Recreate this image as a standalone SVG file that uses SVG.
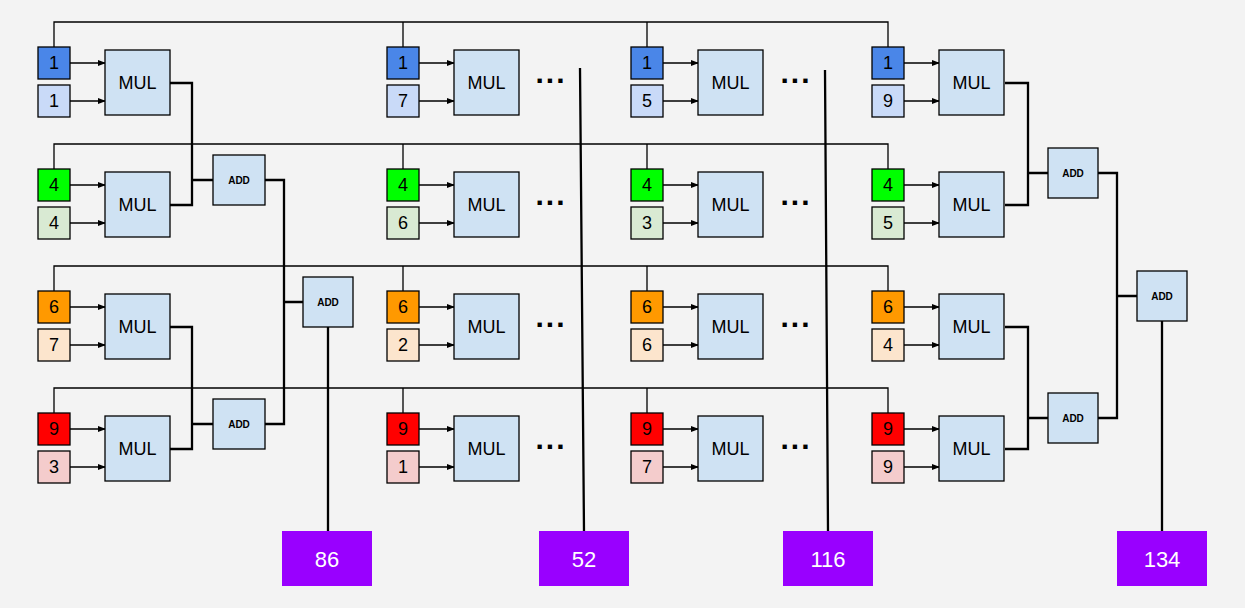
<svg xmlns="http://www.w3.org/2000/svg" width="1245" height="608" viewBox="0 0 1245 608">
<style>
text{font-family:"Liberation Sans",Arial,sans-serif;text-anchor:middle;dominant-baseline:central}
.b{stroke:#000;stroke-width:1.3}
.n{font-size:18px}
.m{fill:#cfe2f3;stroke:#000;stroke-width:1.3}
.mt{font-size:18px}
.at{font-size:10px;font-weight:bold}
.w{fill:none;stroke:#000;stroke-width:1.3}
.t{fill:none;stroke:#000;stroke-width:2.3}
.d{font-size:30px;font-weight:bold;letter-spacing:2px}
.p{fill:#9900ff}
.pt{font-size:22px;fill:#fff}
line.a{stroke:#000;stroke-width:1.3;marker-end:url(#ar)}
</style>
<defs>
<marker id="ar" markerWidth="8" markerHeight="6" refX="7" refY="3" orient="auto" markerUnits="userSpaceOnUse"><path d="M0,0L8,3L0,6z"/></marker>
</defs>
<rect width="1245" height="608" fill="#f3f3f3"/>
<g id="connectors">
<path class="w" d="M54,47V22H888V47M403,22V47M647,22V47"/>
<path class="w" d="M54,169V144H888V169M403,144V169M647,144V169"/>
<path class="w" d="M54,291V266H888V291M403,266V291M647,266V291"/>
<path class="w" d="M54,413V388H888V413M403,388V413M647,388V413"/>
<line class="a" x1="70" y1="63" x2="105" y2="63"/><line class="a" x1="70" y1="101" x2="105" y2="101"/><line class="a" x1="70" y1="185" x2="105" y2="185"/><line class="a" x1="70" y1="223" x2="105" y2="223"/><line class="a" x1="70" y1="307" x2="105" y2="307"/><line class="a" x1="70" y1="345" x2="105" y2="345"/><line class="a" x1="70" y1="429" x2="105" y2="429"/><line class="a" x1="70" y1="467" x2="105" y2="467"/>
<line class="a" x1="419" y1="63" x2="454" y2="63"/><line class="a" x1="419" y1="101" x2="454" y2="101"/><line class="a" x1="419" y1="185" x2="454" y2="185"/><line class="a" x1="419" y1="223" x2="454" y2="223"/><line class="a" x1="419" y1="307" x2="454" y2="307"/><line class="a" x1="419" y1="345" x2="454" y2="345"/><line class="a" x1="419" y1="429" x2="454" y2="429"/><line class="a" x1="419" y1="467" x2="454" y2="467"/>
<line class="a" x1="663" y1="63" x2="698" y2="63"/><line class="a" x1="663" y1="101" x2="698" y2="101"/><line class="a" x1="663" y1="185" x2="698" y2="185"/><line class="a" x1="663" y1="223" x2="698" y2="223"/><line class="a" x1="663" y1="307" x2="698" y2="307"/><line class="a" x1="663" y1="345" x2="698" y2="345"/><line class="a" x1="663" y1="429" x2="698" y2="429"/><line class="a" x1="663" y1="467" x2="698" y2="467"/>
<line class="a" x1="904" y1="63" x2="939" y2="63"/><line class="a" x1="904" y1="101" x2="939" y2="101"/><line class="a" x1="904" y1="185" x2="939" y2="185"/><line class="a" x1="904" y1="223" x2="939" y2="223"/><line class="a" x1="904" y1="307" x2="939" y2="307"/><line class="a" x1="904" y1="345" x2="939" y2="345"/><line class="a" x1="904" y1="429" x2="939" y2="429"/><line class="a" x1="904" y1="467" x2="939" y2="467"/>
<path class="t" d="M170,83H192V205H170M192,180H213M170,327H192V449H170M192,424H213M265,180H284V424H265M284,302H303M328,327V531"/>
<path class="t" d="M1005,83H1028V205H1005M1028,173H1048M1005,327H1028V449H1005M1028,418H1048M1098,173H1117V418H1098M1117,296H1137M1162,321V531"/>
<path class="t" d="M580,68L584,531M825,70L828,531"/>
</g>
<g id="inputs">
<g id="c0"><rect class="b" x="38" y="47" width="32" height="32" fill="#4a86e8"/><text class="n" x="54" y="63">1</text><rect class="b" x="38" y="85" width="32" height="32" fill="#c9daf8"/><text class="n" x="54" y="101">1</text>
<rect class="b" x="38" y="169" width="32" height="32" fill="#00ff00"/><text class="n" x="54" y="185">4</text><rect class="b" x="38" y="207" width="32" height="32" fill="#d9ead3"/><text class="n" x="54" y="223">4</text>
<rect class="b" x="38" y="291" width="32" height="32" fill="#ff9900"/><text class="n" x="54" y="307">6</text><rect class="b" x="38" y="329" width="32" height="32" fill="#fce5cd"/><text class="n" x="54" y="345">7</text>
<rect class="b" x="38" y="413" width="32" height="32" fill="#ff0000"/><text class="n" x="54" y="429">9</text><rect class="b" x="38" y="451" width="32" height="32" fill="#f4cccc"/><text class="n" x="54" y="467">3</text></g>
<g id="c1"><rect class="b" x="387" y="47" width="32" height="32" fill="#4a86e8"/><text class="n" x="403" y="63">1</text><rect class="b" x="387" y="85" width="32" height="32" fill="#c9daf8"/><text class="n" x="403" y="101">7</text>
<rect class="b" x="387" y="169" width="32" height="32" fill="#00ff00"/><text class="n" x="403" y="185">4</text><rect class="b" x="387" y="207" width="32" height="32" fill="#d9ead3"/><text class="n" x="403" y="223">6</text>
<rect class="b" x="387" y="291" width="32" height="32" fill="#ff9900"/><text class="n" x="403" y="307">6</text><rect class="b" x="387" y="329" width="32" height="32" fill="#fce5cd"/><text class="n" x="403" y="345">2</text>
<rect class="b" x="387" y="413" width="32" height="32" fill="#ff0000"/><text class="n" x="403" y="429">9</text><rect class="b" x="387" y="451" width="32" height="32" fill="#f4cccc"/><text class="n" x="403" y="467">1</text></g>
<g id="c2"><rect class="b" x="631" y="47" width="32" height="32" fill="#4a86e8"/><text class="n" x="647" y="63">1</text><rect class="b" x="631" y="85" width="32" height="32" fill="#c9daf8"/><text class="n" x="647" y="101">5</text>
<rect class="b" x="631" y="169" width="32" height="32" fill="#00ff00"/><text class="n" x="647" y="185">4</text><rect class="b" x="631" y="207" width="32" height="32" fill="#d9ead3"/><text class="n" x="647" y="223">3</text>
<rect class="b" x="631" y="291" width="32" height="32" fill="#ff9900"/><text class="n" x="647" y="307">6</text><rect class="b" x="631" y="329" width="32" height="32" fill="#fce5cd"/><text class="n" x="647" y="345">6</text>
<rect class="b" x="631" y="413" width="32" height="32" fill="#ff0000"/><text class="n" x="647" y="429">9</text><rect class="b" x="631" y="451" width="32" height="32" fill="#f4cccc"/><text class="n" x="647" y="467">7</text></g>
<g id="c3"><rect class="b" x="872" y="47" width="32" height="32" fill="#4a86e8"/><text class="n" x="888" y="63">1</text><rect class="b" x="872" y="85" width="32" height="32" fill="#c9daf8"/><text class="n" x="888" y="101">9</text>
<rect class="b" x="872" y="169" width="32" height="32" fill="#00ff00"/><text class="n" x="888" y="185">4</text><rect class="b" x="872" y="207" width="32" height="32" fill="#d9ead3"/><text class="n" x="888" y="223">5</text>
<rect class="b" x="872" y="291" width="32" height="32" fill="#ff9900"/><text class="n" x="888" y="307">6</text><rect class="b" x="872" y="329" width="32" height="32" fill="#fce5cd"/><text class="n" x="888" y="345">4</text>
<rect class="b" x="872" y="413" width="32" height="32" fill="#ff0000"/><text class="n" x="888" y="429">9</text><rect class="b" x="872" y="451" width="32" height="32" fill="#f4cccc"/><text class="n" x="888" y="467">9</text></g>
</g>
<g id="muls">
<g id="mul0"><rect class="m" x="105" y="50" width="65" height="65"/><text class="mt" x="137.5" y="83">MUL</text><rect class="m" x="105" y="172" width="65" height="65"/><text class="mt" x="137.5" y="205">MUL</text><rect class="m" x="105" y="294" width="65" height="65"/><text class="mt" x="137.5" y="327">MUL</text><rect class="m" x="105" y="416" width="65" height="65"/><text class="mt" x="137.5" y="449">MUL</text></g>
<g id="mul1"><rect class="m" x="454" y="50" width="65" height="65"/><text class="mt" x="486.5" y="83">MUL</text><rect class="m" x="454" y="172" width="65" height="65"/><text class="mt" x="486.5" y="205">MUL</text><rect class="m" x="454" y="294" width="65" height="65"/><text class="mt" x="486.5" y="327">MUL</text><rect class="m" x="454" y="416" width="65" height="65"/><text class="mt" x="486.5" y="449">MUL</text></g>
<g id="mul2"><rect class="m" x="698" y="50" width="65" height="65"/><text class="mt" x="730.5" y="83">MUL</text><rect class="m" x="698" y="172" width="65" height="65"/><text class="mt" x="730.5" y="205">MUL</text><rect class="m" x="698" y="294" width="65" height="65"/><text class="mt" x="730.5" y="327">MUL</text><rect class="m" x="698" y="416" width="65" height="65"/><text class="mt" x="730.5" y="449">MUL</text></g>
<g id="mul3"><rect class="m" x="939" y="50" width="65" height="65"/><text class="mt" x="971.5" y="83">MUL</text><rect class="m" x="939" y="172" width="65" height="65"/><text class="mt" x="971.5" y="205">MUL</text><rect class="m" x="939" y="294" width="65" height="65"/><text class="mt" x="971.5" y="327">MUL</text><rect class="m" x="939" y="416" width="65" height="65"/><text class="mt" x="971.5" y="449">MUL</text></g>
</g>
<g id="dots">
<text class="d" x="551" y="72">...</text><text class="d" x="551" y="194">...</text><text class="d" x="551" y="316">...</text><text class="d" x="551" y="438">...</text>
<text class="d" x="796" y="72">...</text><text class="d" x="796" y="194">...</text><text class="d" x="796" y="316">...</text><text class="d" x="796" y="438">...</text>
</g>
<g id="adds">
<g id="add1"><rect class="m" x="213" y="155" width="52" height="50"/><text class="at" x="239" y="180">ADD</text></g>
<g id="add2"><rect class="m" x="213" y="399" width="52" height="50"/><text class="at" x="239" y="424">ADD</text></g>
<g id="add3"><rect class="m" x="303" y="277" width="50" height="50"/><text class="at" x="328" y="302">ADD</text></g>
<g id="add4"><rect class="m" x="1048" y="148" width="50" height="50"/><text class="at" x="1073" y="173">ADD</text></g>
<g id="add5"><rect class="m" x="1048" y="393" width="50" height="50"/><text class="at" x="1073" y="418">ADD</text></g>
<g id="add6"><rect class="m" x="1137" y="271" width="50" height="50"/><text class="at" x="1162" y="296">ADD</text></g>
</g>
<g id="outputs">
<g id="o86"><rect class="p" x="282" y="531" width="90" height="55"/><text class="pt" x="327" y="559">86</text></g>
<g id="o52"><rect class="p" x="539" y="531" width="90" height="55"/><text class="pt" x="584" y="559">52</text></g>
<g id="o116"><rect class="p" x="783" y="531" width="90" height="55"/><text class="pt" x="828" y="559">116</text></g>
<g id="o134"><rect class="p" x="1117" y="531" width="90" height="55"/><text class="pt" x="1162" y="559">134</text></g>
</g>
</svg>
